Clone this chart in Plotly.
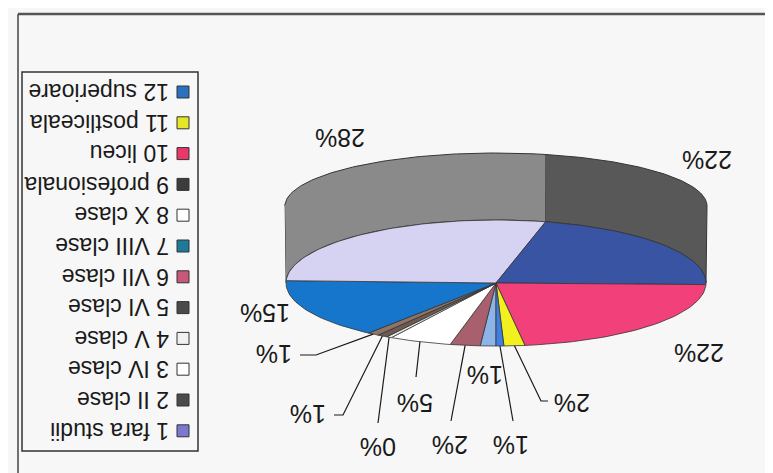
import numpy as np
import plotly.graph_objects as go

# ---------------- data ----------------
categories = ["1 fara studii", "2 II clase", "3 IV clase", "4 V clase", "5 VI clase",
              "6 VII clase", "7 VIII clase", "8 X clase", "9 profesionala", "10 liceu",
              "11 postliceala", "12 superioare"]
values = [1.2, 2.3, 4.8, 0.4, 0.8, 0.9, 15.2, 28.2, 21.6, 22.4, 1.6, 0.6]

# ---------------- styles ----------------
slice_colors = ["#8DB4E6", "#A8606E", "#FFFFFF", "#ECECEC", "#6E5A50", "#8C7468",
                "#1576CC", "#D6D2F2", "#3A54A4", "#F2407A", "#F2F01E", "#3F7FE0"]
wall_colors = ["#8A8A8A"] * 7 + ["#8A8A8A", "#585858"] + ["#585858"] * 3
legend_colors = ["#7C78D0", "#4A4A4A", "#FFFFFF", "#F0F0F0", "#4A4A4A", "#C8587A",
                 "#1F7A9A", "#FFFFFF", "#3C3C3C", "#E8386A", "#E6E628", "#2A72C0"]
BG = "#F7F7F7"
EDGE = "#353535"
FONT = "Liberation Sans, Arial, sans-serif"

W, H = 773, 473
CX, CY, RX, RY = 488, 275, 210, 63          # top face ellipse
CYR, RXR, RYR = 198, 211, 53                # outer rim (side wall) ellipse

# label placement (layout)
label_pos = [(477, 367), (442, 437), (407, 395), (370, 439), (300, 406), (266, 346),
             (257, 305), (332, 130), (699, 152), (691, 345), (564, 395), (503, 437)]
leader_paths = [None, [(443, 413)], [(408, 369)], [(370, 415)], [(335, 407), (326, 407)],
                [(308, 347), (292, 347)], None, None, None, None,
                [(533, 393), (540, 393)], [(505, 413)]]

total = sum(values)
cum = np.concatenate([[0], np.cumsum(values)]) / total * 2 * np.pi


def face(t):
    return CX - RX * np.sin(t), CY + RY * np.cos(t)


def rim(t):
    return CX - RXR * np.sin(t), CYR + RYR * np.cos(t)


fig = go.Figure()

# side walls (visible half: pi/2 .. 3pi/2)
for i in range(len(values)):
    a, b = max(cum[i], np.pi / 2), min(cum[i + 1], 3 * np.pi / 2)
    if b <= a:
        continue
    ts = np.linspace(a, b, 80)
    rx_, ry_ = rim(ts)
    fx_, fy_ = face(ts[::-1])
    fig.add_trace(go.Scatter(x=np.concatenate([rx_, fx_]), y=np.concatenate([ry_, fy_]),
                             mode="lines", fill="toself", fillcolor=wall_colors[i],
                             line=dict(color=EDGE, width=1), hoverinfo="skip",
                             showlegend=False))

# top face slices
for i in range(len(values)):
    ts = np.linspace(cum[i], cum[i + 1], max(4, int(200 * values[i] / total) + 4))
    fx_, fy_ = face(ts)
    fig.add_trace(go.Scatter(x=np.concatenate([[CX], fx_, [CX]]),
                             y=np.concatenate([[CY], fy_, [CY]]),
                             mode="lines", fill="toself", fillcolor=slice_colors[i],
                             line=dict(color=EDGE, width=0.8), hoverinfo="skip",
                             name=categories[i], showlegend=False))

# leader lines
for i in range(len(values)):
    if leader_paths[i] is None:
        continue
    mx, my = face((cum[i] + cum[i + 1]) / 2)
    xs = [mx] + [p[0] for p in leader_paths[i]]
    ys = [my] + [p[1] for p in leader_paths[i]]
    fig.add_trace(go.Scatter(x=xs, y=ys, mode="lines", line=dict(color="#1A1A1A", width=1.2),
                             hoverinfo="skip", showlegend=False))

# percentage labels (upside down, as in the scan)
annotations = []
for i, v in enumerate(values):
    annotations.append(dict(x=label_pos[i][0], y=label_pos[i][1], xref="x", yref="y",
                            text=f"{round(v / total * 100)}%", showarrow=False,
                            textangle=180, font=dict(family=FONT, size=25, color="#1A1A1A"),
                            xanchor="center", yanchor="middle"))

# custom legend (upside down)
LEG_TOP, LEG_STEP = 84, 30.8
leg_y = [LEG_TOP + (len(categories) - 1 - k) * LEG_STEP for k in range(len(categories))]
fig.add_trace(go.Scatter(x=[175] * len(categories), y=leg_y, mode="markers",
                         marker=dict(symbol="square", size=12, color=legend_colors,
                                     line=dict(color="#333", width=1)),
                         hoverinfo="skip", showlegend=False))
for k, name in enumerate(categories):
    annotations.append(dict(x=163, y=leg_y[k], xref="x", yref="y", text=name,
                            showarrow=False, textangle=180, xanchor="right",
                            yanchor="middle",
                            font=dict(family=FONT, size=23, color="#1A1A1A")))

shapes = [
    dict(type="rect", x0=14, y0=64, x1=190, y1=443, xref="x", yref="y",
         line=dict(color="#333", width=1.5), layer="below"),
    dict(type="line", x0=10, y0=6, x1=773, y1=6, xref="x", yref="y",
         line=dict(color="#555", width=2.5)),
    dict(type="line", x0=10, y0=6, x1=10, y1=473, xref="x", yref="y",
         line=dict(color="#444", width=1.5)),
    dict(type="line", x0=10, y0=470, x1=773, y1=470, xref="x", yref="y",
         line=dict(color="#DDDDDD", width=1)),
]

fig.update_layout(
    width=W, height=H, margin=dict(l=0, r=0, t=0, b=0),
    paper_bgcolor=BG, plot_bgcolor=BG,
    xaxis=dict(range=[0, W], visible=False, fixedrange=True),
    yaxis=dict(range=[H, 0], visible=False, fixedrange=True),
    annotations=annotations, shapes=shapes, showlegend=False,
)

fig.write_html("out.html")
